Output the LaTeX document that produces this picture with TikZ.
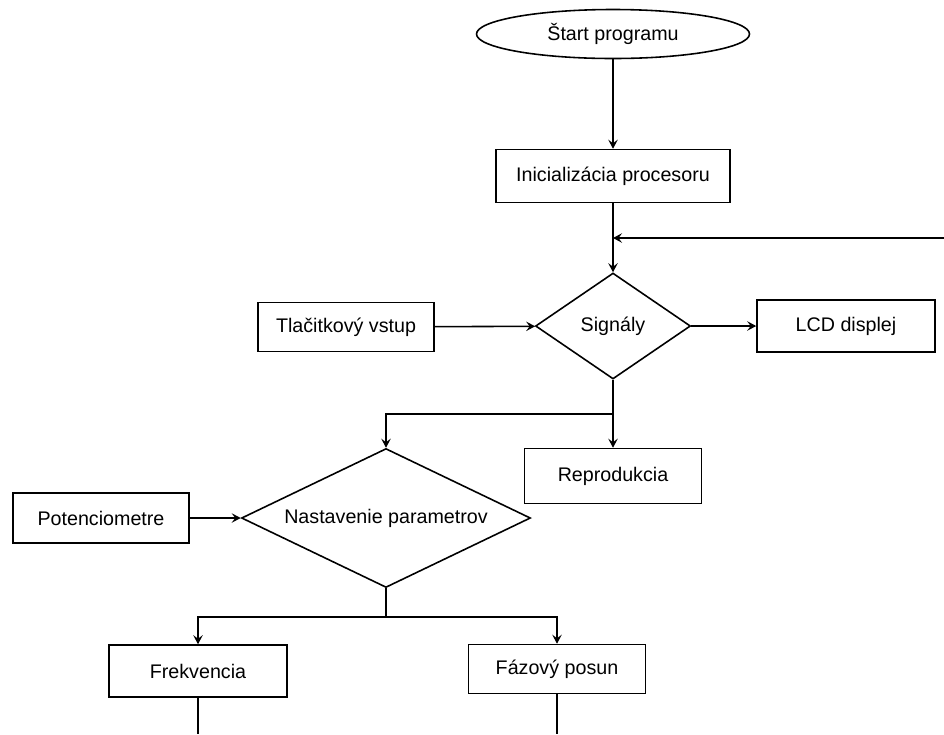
\documentclass[tikz,border=0pt]{standalone}
\usepackage{fontspec}
\setmainfont{Liberation Sans}
\usetikzlibrary{shapes.geometric,arrows.meta}

\tikzset{
  block/.style={draw=black, line width=0.9pt, rectangle, minimum width=3.54cm, minimum height=1.02cm, inner sep=0pt},
  decision/.style={draw=black, line width=0.9pt, diamond, inner sep=0pt},
  terminal/.style={draw=black, line width=0.9pt, ellipse, minimum width=5.46cm, minimum height=0.98cm, inner sep=0pt},
  arr/.style={line width=0.9pt, -{Stealth[length=1.8mm, width=1.9mm, inset=0.7mm]}},
  wire/.style={line width=0.9pt}
}

\begin{document}
\begin{tikzpicture}[font=\fontsize{11.2}{13.4}\selectfont]
      \useasboundingbox (0, 0) rectangle (18.88, -14.68);

      \draw (12.26, -0.68) node [terminal] (start) {Štart programu};
      \draw (12.26, -3.52) node [block, minimum width=4.68cm, minimum height=1.06cm] (init) {Inicializácia procesoru};
      \draw [arr] (start) -- (init);

      \draw (12.26, -6.52) node [decision, aspect=1.46, minimum width=3.1cm, minimum height=2.12cm] (signaly) {Signály};
      \draw [arr] (init) -- (signaly);

      % navrat zo slucky
      \coordinate (loop_in) at (18.88, -4.76);
      \coordinate (loop_join) at (12.26, -4.76);
      \draw [arr] (loop_in) -- (loop_join);

      \draw (6.92, -6.54) node [block, minimum width=3.52cm, minimum height=0.98cm] (tlac) {Tlačitkový vstup};
      \draw (16.92, -6.52) node [block, minimum width=3.56cm, minimum height=1.04cm] (lcd) {LCD displej};
      \draw [arr] (tlac) -- (signaly);
      \draw [arr] (signaly) -- (lcd);

      \draw (12.26, -9.52) node [block, minimum height=1.1cm] (repro) {Reprodukcia};
      \coordinate (split_sig) at (12.26, -8.28);
      \draw [arr] (signaly) -- (repro);

      %%%%%%%%%%%%%%%%%%%%%%%%%%%%%%%%%%%%%%%%%%%%%%%%%%%%%%%%%%%%%%
      % Nastavenie
      %%%%%%%%%%%%%%%%%%%%%%%%%%%%%%%%%%%%%%%%%%%%%%%%%%%%%%%%%%%%%%
      \draw (7.72, -10.36) node [decision, aspect=2.08, minimum width=5.78cm, minimum height=2.78cm] (nast) {Nastavenie parametrov};
      \draw [arr] (split_sig) -| (nast);

      \draw (2.02, -10.36) node [block, minimum width=3.52cm, minimum height=1.0cm] (poten) {Potenciometre};
      \draw [arr] (poten) -- (nast);

      \coordinate (split_nast) at (7.72, -12.34);
      \draw [wire] (nast) -- (split_nast);

      \draw (3.96, -13.42) node [block, minimum width=3.56cm, minimum height=1.04cm] (frek) {Frekvencia};
      \draw (11.14, -13.38) node [block, minimum height=0.98cm] (faz) {Fázový posun};
      \draw [arr] (split_nast) -| (frek);
      \draw [arr] (split_nast) -| (faz);

      \coordinate (frek_out) at (3.96, -14.68);
      \coordinate (faz_out) at (11.14, -14.68);
      \draw [wire] (frek) -- (frek_out);
      \draw [wire] (faz) -- (faz_out);
\end{tikzpicture}
\end{document}
